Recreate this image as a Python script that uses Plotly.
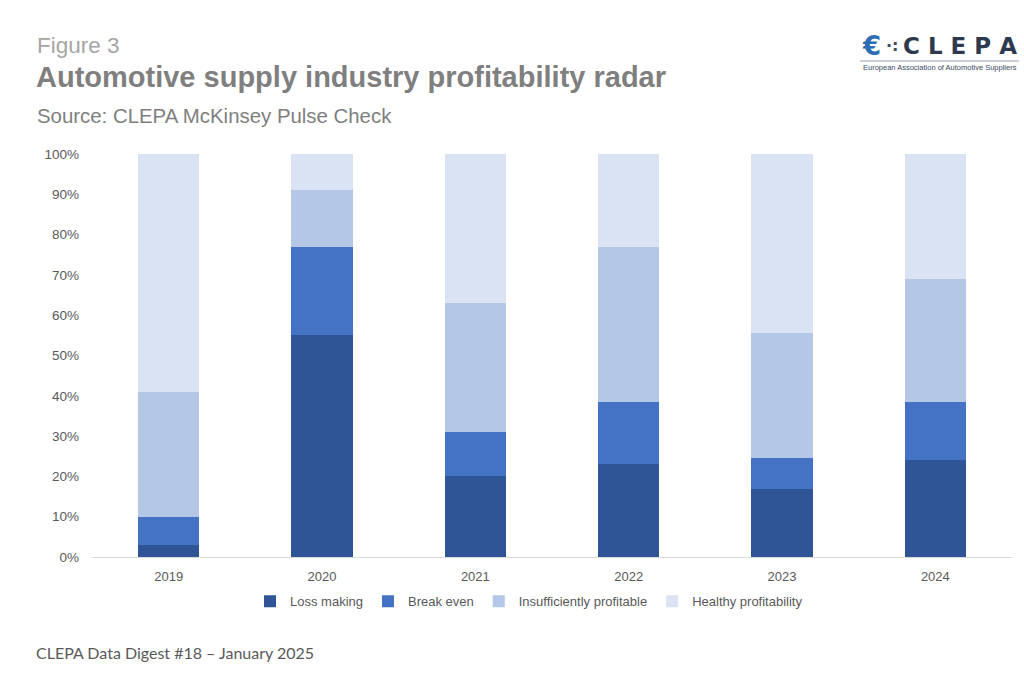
import plotly.graph_objects as go

years = ["2019", "2020", "2021", "2022", "2023", "2024"]
loss_making = [3, 55, 20, 23, 17, 24]
break_even = [7, 22, 11, 15.5, 7.5, 14.5]
insufficiently_profitable = [31, 14, 32, 38.5, 31, 30.5]
healthy_profitability = [59, 9, 37, 23, 44.5, 31]

series_names = ["Loss making", "Break even", "Insufficiently profitable", "Healthy profitability"]
series_values = [loss_making, break_even, insufficiently_profitable, healthy_profitability]
colors = ["#2F5597", "#4472C4", "#B4C7E7", "#DAE3F3"]

fig = go.Figure()
for name, vals, col in zip(series_names, series_values, colors):
    fig.add_trace(go.Bar(x=years, y=vals, name=name, marker=dict(color=col, line=dict(width=0))))

W, H = 1024, 683
ml, mr, mt, mb = 92, 12, 154, 126

fig.update_layout(
    width=W, height=H,
    barmode="stack", bargap=0.6,
    margin=dict(l=ml, r=mr, t=mt, b=mb),
    paper_bgcolor="white", plot_bgcolor="white",
    font=dict(family="Liberation Sans, Arial, sans-serif", color="#595959", size=13),
    showlegend=True,
    legend=dict(orientation="h", x=0.475, xanchor="center", y=-0.11, yanchor="middle",
                font=dict(size=13, color="#595959"), traceorder="normal",
                itemwidth=30, itemsizing="constant"),
    xaxis=dict(showgrid=False, showline=True, linecolor="#D9D9D9", linewidth=1,
               ticks="", ticklabelstandoff=7, tickfont=dict(size=13, color="#595959")),
    yaxis=dict(range=[0, 100.01], tickvals=[0, 10, 20, 30, 40, 50, 60, 70, 80, 90, 100],
               ticktext=[f"{v}%" for v in range(0, 101, 10)],
               showgrid=False, zeroline=False, showline=False, ticks="", ticklabelstandoff=12,
               tickfont=dict(size=13.5, color="#595959")),
)

def px_to_paper_x(px):
    return (px - ml) / (W - ml - mr)

def px_to_paper_y(py):
    return (H - mb - py) / (H - mt - mb)

annots = [
    dict(text="Figure 3", x=35, y=46, size=22.5, color="#A6A6A6", family="Liberation Sans, Arial"),
    dict(text="<b>Automotive supply industry profitability radar</b>", x=34, y=77, size=29, color="#7F7F7F", family="Liberation Sans, Arial"),
    dict(text="Source: CLEPA McKinsey Pulse Check", x=35, y=116, size=20.4, color="#7F7F7F", family="Liberation Sans, Arial"),
    dict(text="CLEPA Data Digest #18 – January 2025", x=34, y=652, size=16, color="#595959", family="Lato, Open Sans, sans-serif"),
]
for a in annots:
    fig.add_annotation(text=a["text"], xref="paper", yref="paper",
                       x=px_to_paper_x(a["x"]), y=px_to_paper_y(a["y"]),
                       xanchor="left", yanchor="middle", showarrow=False,
                       font=dict(size=a["size"], color=a["color"], family=a["family"]))

# Logo approximation
fig.add_annotation(text="<b>€</b>", xref="paper", yref="paper",
                   x=px_to_paper_x(860), y=px_to_paper_y(46), xanchor="left", yanchor="middle",
                   showarrow=False, font=dict(size=26, color="#2E6DB4", family="DejaVu Sans"))
fig.add_annotation(text="<b>·:</b>", xref="paper", yref="paper",
                   x=px_to_paper_x(884), y=px_to_paper_y(46), xanchor="left", yanchor="middle",
                   showarrow=False, font=dict(size=16, color="#3A4A5E", family="DejaVu Sans"))
fig.add_annotation(text="<b>C L E P A</b>", xref="paper", yref="paper",
                   x=px_to_paper_x(1019), y=px_to_paper_y(46), xanchor="right", yanchor="middle",
                   showarrow=False, font=dict(size=23, color="#2D3A4E", family="DejaVu Sans"))
fig.add_annotation(text="European Association of Automotive Suppliers", xref="paper", yref="paper",
                   x=px_to_paper_x(1019), y=px_to_paper_y(67), xanchor="right", yanchor="middle",
                   showarrow=False, font=dict(size=7.5, color="#3A4A5E", family="Liberation Sans Narrow, Liberation Sans"))
fig.add_shape(type="line", xref="paper", yref="paper",
              x0=px_to_paper_x(860), x1=px_to_paper_x(1019),
              y0=px_to_paper_y(61), y1=px_to_paper_y(61),
              line=dict(color="#9AA5B5", width=1))

fig.write_html("out.html", config={"displayModeBar": False})

# remove default browser body margin so the figure sits at (0,0)
with open("out.html", "r", encoding="utf-8") as f:
    html = f.read()
html = html.replace("<head>", "<head><style>html,body{margin:0;padding:0;overflow:hidden;}</style>", 1)
with open("out.html", "w", encoding="utf-8") as f:
    f.write(html)
